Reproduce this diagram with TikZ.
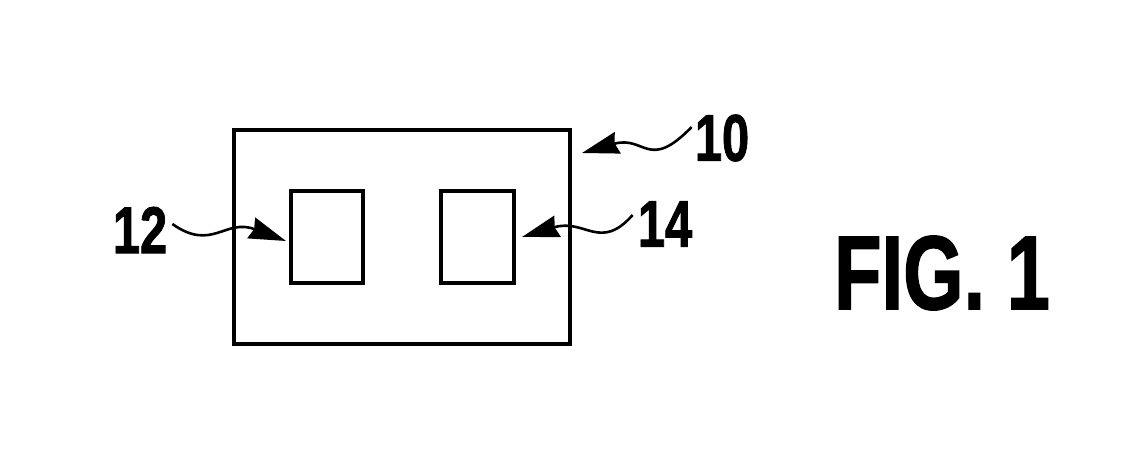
\documentclass[tikz,border=0pt]{standalone}
\usepackage{fontspec}
\setmainfont{Liberation Sans}[BoldFeatures={FakeBold=1.5}]
\usetikzlibrary{arrows.meta}
\tikzset{
  refnum/.style={inner sep=0pt, font=\bfseries\fontsize{66}{70}\selectfont},
  leader/.style={line width=2.6pt, -{Stealth[length=37pt,width=22pt,inset=3pt]}},
}
\begin{document}
\begin{tikzpicture}[x=1pt,y=-1pt]
\useasboundingbox (0,0) rectangle (1137,476);
% boxes
\draw[line width=4pt] (234,130) rectangle (570,344);
\node[draw, line width=4pt, inner sep=0pt, minimum width=72pt, minimum height=92pt] (b12) at (327,237) {};
\node[draw, line width=4pt, inner sep=0pt, minimum width=73pt, minimum height=92pt] (b14) at (477.5,237) {};
\coordinate (c10) at (582,153);
% labels
\node[refnum] (l12) at (140,230) {\scalebox{0.74}[1]{12}};
\node[refnum] (l14) at (665,224) {\scalebox{0.74}[1]{14}};
\node[refnum] (l10) at (722,138) {\scalebox{0.74}[1]{10}};
\node[inner sep=0pt, font=\bfseries\fontsize{105}{110}\selectfont] (fig) at (942,273) {\scalebox{0.74}[1]{FIG. 1}};
% leaders
\draw[leader] ([xshift=5pt,yshift=6pt]l12.east) .. controls (212,252) and (225,218) .. ([xshift=-3pt,yshift=-4pt]b12.west);
\draw[leader] ([xshift=-5pt,yshift=9pt]l14.west) .. controls (600,252) and (585,218) .. ([xshift=6pt]b14.east);
\draw[leader] ([xshift=-3pt,yshift=11pt]l10.west) .. controls (648,172) and (645,135) .. (c10);
\end{tikzpicture}
\end{document}
